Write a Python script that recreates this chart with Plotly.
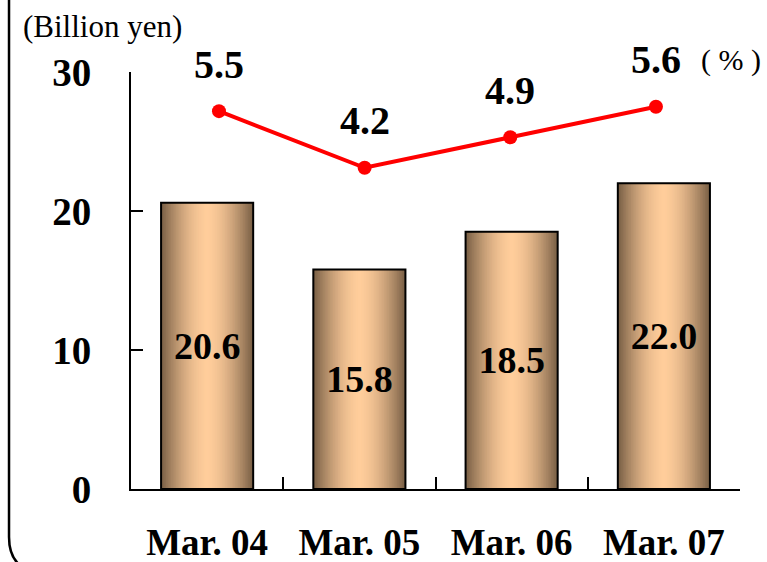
import plotly.graph_objects as go

categories = ["Mar. 04", "Mar. 05", "Mar. 06", "Mar. 07"]
sales = [20.6, 15.8, 18.5, 22.0]          # Billion yen (bars)
ratio = [5.5, 4.2, 4.9, 5.6]              # % (line)
y_ticks = [0, 10, 20, 30]

FONT = "Liberation Serif"
BAR_W = 0.605
N_LAYERS = 28
DARK = (122, 96, 70)
LIGHT = (255, 205, 155)

fig = go.Figure()

# cylindrical shading: overlaid bars of decreasing width
for i in range(N_LAYERS):
    r = 1 - i / N_LAYERS
    f = r ** 1.7
    col = tuple(int(round(LIGHT[k] + (DARK[k] - LIGHT[k]) * f)) for k in range(3))
    fig.add_trace(go.Bar(
        x=categories, y=sales, width=BAR_W * r,
        marker=dict(color=f"rgb{col}", line=dict(width=0)),
        hoverinfo="skip", showlegend=False,
    ))

# outline + value labels
fig.add_trace(go.Bar(
    x=categories, y=sales, width=BAR_W,
    marker=dict(color="rgba(0,0,0,0)", line=dict(color="#000000", width=2)),
    text=[f"{v:.1f}" for v in sales], textposition="inside",
    insidetextanchor="middle", constraintext="none",
    textfont=dict(family=FONT, size=38, color="#000000", weight="bold"),
    showlegend=False,
))

fig.add_trace(go.Scatter(
    x=categories, y=ratio, xaxis="x2", yaxis="y2",
    mode="lines+markers",
    line=dict(color="#FF0000", width=4),
    marker=dict(color="#FF0000", size=14),
    showlegend=False,
))

annotations = []
for c, v in zip(categories, ratio):
    annotations.append(dict(
        x=c, y=v, xref="x2", yref="y2", text=f"{v:.1f}",
        showarrow=False, yshift=47, yanchor="middle",
        font=dict(family=FONT, size=40, color="#000000", weight="bold"),
    ))
annotations.append(dict(
    x=-0.181, y=1.11, xref="paper", yref="paper", xanchor="left", yanchor="middle",
    text="(Billion yen)", showarrow=False,
    font=dict(family=FONT, size=31, color="#000000"),
))
annotations.append(dict(
    x=0.985, y=1.029, xref="paper", yref="paper", xanchor="center", yanchor="middle",
    text="( % )", showarrow=False,
    font=dict(family=FONT, size=30, color="#000000"),
))

fig.update_layout(
    width=767, height=562,
    margin=dict(l=131, r=27, t=72, b=73),
    paper_bgcolor="white", plot_bgcolor="white",
    barmode="overlay",
    showlegend=False,
    font=dict(family=FONT, color="#000000"),
    xaxis=dict(
        type="category", range=[-0.5, 3.5], automargin=False,
        showline=True, linecolor="#000000", linewidth=2,
        ticks="inside", tickson="boundaries", ticklen=12, tickwidth=1.5, tickcolor="#000000",
        tickfont=dict(family=FONT, size=37, color="#000000", weight="bold"),
        ticklabelstandoff=20,
        showgrid=False, zeroline=False,
    ),
    xaxis2=dict(
        type="category", overlaying="x", range=[-0.604, 3.577],
        visible=False, showgrid=False,
    ),
    yaxis=dict(
        range=[0, 30], tickvals=y_ticks, automargin=False,
        showline=True, linecolor="#000000", linewidth=2,
        ticks="inside", ticklen=12, tickwidth=2, tickcolor="#000000",
        tickfont=dict(family=FONT, size=39, color="#000000", weight="bold"),
        ticklabelstandoff=30,
        showgrid=False, zeroline=False,
    ),
    yaxis2=dict(
        overlaying="y", side="right", range=[-3.174, 6.399],
        visible=False, showgrid=False, zeroline=False,
    ),
    annotations=annotations,
    shapes=[dict(
        type="path", xref="paper", yref="paper",
        path="M -0.2003,1.2 L -0.2003,-0.115 Q -0.2003,-0.17 -0.175,-0.19",
        line=dict(color="#000000", width=2.5),
    )],
)

fig.write_html("out.html")
